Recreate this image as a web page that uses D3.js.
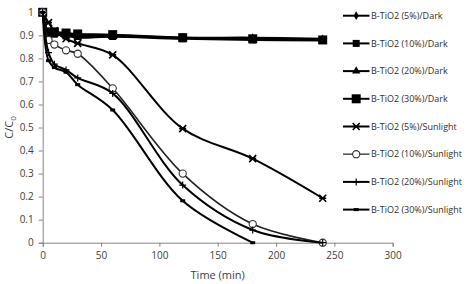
<!DOCTYPE html>
<html>
<head>
<meta charset="utf-8">
<script src="https://cdn.jsdelivr.net/npm/d3@7"></script>
<style>
  body { margin: 0; background: #fff; }
  text { font-family: "Open Sans", "Liberation Sans", sans-serif; }
</style>
</head>
<body>
<div id="chart"></div>
<script>
// time points (min)
const times = [0, 5, 10, 20, 30, 60, 120, 180, 240];

const darkB5 = [1, 0.91, 0.91, 0.905, 0.9, 0.9, 0.89, 0.89, 0.885];
const darkB10 = [1, 0.9, 0.905, 0.9, 0.895, 0.895, 0.885, 0.88, 0.878];
const darkB20 = [1, 0.905, 0.91, 0.9, 0.89, 0.895, 0.89, 0.885, 0.88];
const darkB30 = [1, 0.915, 0.915, 0.91, 0.906, 0.903, 0.89, 0.885, 0.88];
const sunB5 = [1, 0.955, 0.92, 0.885, 0.865, 0.815, 0.495, 0.365, 0.193];
const sunB10 = [1, 0.88, 0.86, 0.835, 0.82, 0.67, 0.30, 0.081, 0];
const sunB20 = [1, 0.825, 0.775, 0.75, 0.715, 0.648, 0.25, 0.055, 0];
const sunB30 = [1, 0.79, 0.76, 0.74, 0.686, 0.576, 0.182, 0];

const seriesNames = [
  "B-TiO2 (5%)/Dark", "B-TiO2 (10%)/Dark", "B-TiO2 (20%)/Dark", "B-TiO2 (30%)/Dark",
  "B-TiO2 (5%)/Sunlight", "B-TiO2 (10%)/Sunlight", "B-TiO2 (20%)/Sunlight", "B-TiO2 (30%)/Sunlight"
];
const seriesValues = [darkB5, darkB10, darkB20, darkB30, sunB5, sunB10, sunB20, sunB30];
const markerTypes = ["diamond", "square", "triangle", "bigsquare", "star", "circle", "plus", "dot"];

const xTicks = [0, 50, 100, 150, 200, 250, 300];
const yTicks = [0, 0.1, 0.2, 0.3, 0.4, 0.5, 0.6, 0.7, 0.8, 0.9, 1];

const width = 476, height = 284;
const x = d3.scaleLinear().domain([0, 300]).range([42.7, 392.7]);
const y = d3.scaleLinear().domain([0, 1]).range([242.7, 12.3]);

const svg = d3.select("#chart").append("svg")
  .attr("width", width)
  .attr("height", height);

const axisColor = "#868686";

// axes
const xAxis = svg.append("g")
  .attr("transform", `translate(0,${y(0)})`)
  .call(d3.axisBottom(x).tickValues(xTicks).tickSize(4).tickPadding(5));
const yAxis = svg.append("g")
  .attr("transform", `translate(${x(0)},0)`)
  .call(d3.axisLeft(y).tickValues(yTicks).tickSize(4).tickPadding(5).tickFormat(d3.format("")));

[xAxis, yAxis].forEach(a => {
  a.select(".domain").attr("stroke", axisColor);
  a.selectAll(".tick line").attr("stroke", axisColor);
  a.selectAll(".tick text")
    .attr("fill", "#404040")
    .style("font-size", "10px")
    .style("font-family", "'Open Sans', sans-serif");
});

// axis titles
svg.append("text")
  .attr("x", (x(0) + x(300)) / 2)
  .attr("y", 279)
  .attr("text-anchor", "middle")
  .attr("fill", "#404040")
  .style("font-size", "11px")
  .text("Time (min)");

const yTitle = svg.append("text")
  .attr("transform", `translate(13,${y(0.5)}) rotate(-90)`)
  .attr("text-anchor", "middle")
  .attr("fill", "#404040")
  .style("font-size", "11px");
yTitle.append("tspan").text("C/C");
yTitle.append("tspan").attr("dy", 3).style("font-size", "8px").text("0");

const line = d3.line()
  .x((d, i) => x(times[i]))
  .y(d => y(d))
  .curve(d3.curveCatmullRom.alpha(0.5));

function drawMarker(g, type, cx, cy, color) {
  if (type === "diamond") {
    g.append("path").attr("d", d3.symbol(d3.symbolDiamond, 22)())
      .attr("transform", `translate(${cx},${cy})`).attr("fill", color);
  } else if (type === "square") {
    g.append("rect").attr("x", cx - 3.5).attr("y", cy - 3.5)
      .attr("width", 7).attr("height", 7).attr("fill", color);
  } else if (type === "bigsquare") {
    g.append("rect").attr("x", cx - 4.5).attr("y", cy - 4.5)
      .attr("width", 9).attr("height", 9).attr("fill", color);
  } else if (type === "triangle") {
    g.append("path").attr("d", d3.symbol(d3.symbolTriangle, 30)())
      .attr("transform", `translate(${cx},${cy})`).attr("fill", color);
  } else if (type === "star") {
    g.append("path")
      .attr("d", `M${cx - 3.5},${cy - 3.5}L${cx + 3.5},${cy + 3.5}M${cx + 3.5},${cy - 3.5}L${cx - 3.5},${cy + 3.5}M${cx - 3.5},${cy}L${cx + 3.5},${cy}`)
      .attr("stroke", color).attr("stroke-width", 1.6);
  } else if (type === "circle") {
    g.append("circle").attr("cx", cx).attr("cy", cy).attr("r", 3.6)
      .attr("fill", "#fff").attr("stroke", "#333").attr("stroke-width", 1.1);
  } else if (type === "plus") {
    g.append("path")
      .attr("d", `M${cx - 3.5},${cy}L${cx + 3.5},${cy}M${cx},${cy - 3.5}L${cx},${cy + 3.5}`)
      .attr("stroke", color).attr("stroke-width", 1.2);
  } else if (type === "dot") {
    g.append("rect").attr("x", cx - 2.5).attr("y", cy - 1.5)
      .attr("width", 5).attr("height", 3).attr("fill", color);
  }
}

const plot = svg.append("g");

seriesValues.forEach((vals, s) => {
  const g = plot.append("g");
  const isCircle = markerTypes[s] === "circle";
  g.append("path")
    .datum(vals)
    .attr("d", line)
    .attr("fill", "none")
    .attr("stroke", isCircle ? "#222" : "#000")
    .attr("stroke-width", isCircle ? 1.6 : 2);
  vals.forEach((v, i) => drawMarker(g, markerTypes[s], x(times[i]), y(v), "#000"));
});

// legend
const legend = svg.append("g");
seriesNames.forEach((name, i) => {
  const ly = 15.7 + i * 27.7;
  const g = legend.append("g");
  const isCircle = markerTypes[i] === "circle";
  g.append("line")
    .attr("x1", 343).attr("x2", 369.5)
    .attr("y1", ly).attr("y2", ly)
    .attr("stroke", isCircle ? "#555" : "#000")
    .attr("stroke-width", isCircle ? 1.6 : 2);
  drawMarker(g, markerTypes[i], 356.2, ly, "#000");
  g.append("text")
    .attr("x", 371)
    .attr("y", ly)
    .attr("dy", "0.35em")
    .attr("fill", "#303030")
    .style("font-size", "9px")
    .text(name);
});
</script>
</body>
</html>
